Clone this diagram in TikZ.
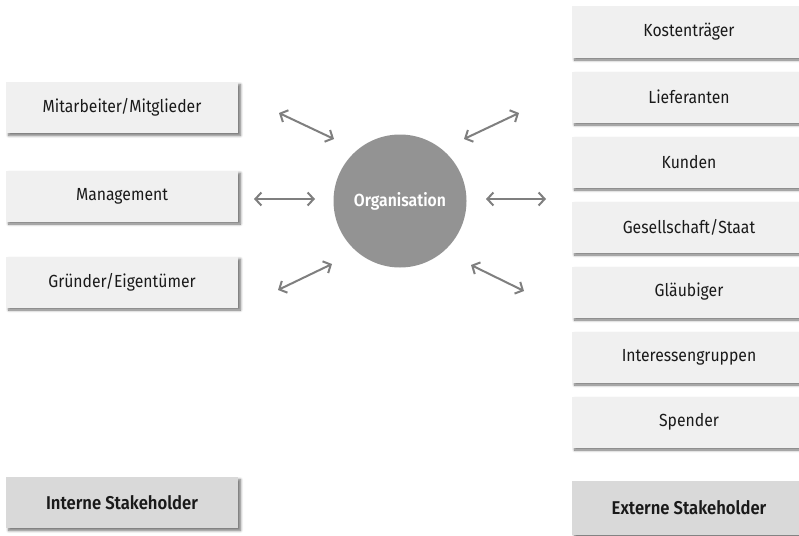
\documentclass[tikz,border=0pt]{standalone}
\usepackage{fontspec}
\setmainfont{Fira Sans}[FakeStretch=0.9]
\newfontfamily\semibold{Fira Sans SemiBold}[FakeStretch=0.9]
\usetikzlibrary{arrows.meta,shadows.blur}

\definecolor{boxfill}{HTML}{F0F0F0}
\definecolor{labelfill}{HTML}{D9D9D9}
\definecolor{orgfill}{HTML}{939393}
\definecolor{arrowgray}{HTML}{7F7F7F}
\definecolor{textdark}{HTML}{1A1A1A}

\tikzset{
  stakebox/.style={
    rectangle, fill=boxfill, minimum width=232pt, minimum height=51pt,
    text=textdark, font=\fontsize{17.5}{20}\selectfont,
    blur shadow={shadow xshift=2.5pt, shadow yshift=-2.5pt,
                 shadow blur steps=6, shadow blur radius=2.5pt,
                 shadow opacity=55}
  },
  rightbox/.style={stakebox, minimum width=234pt},
  groupbox/.style={
    stakebox, fill=labelfill,
    font=\fontsize{18.5}{21}\semibold
  },
  orgcircle/.style={
    circle, fill=orgfill, minimum size=133pt, inner sep=0pt,
    text=white, font=\fontsize{17.5}{20}\semibold
  },
  linkarrow/.style={
    draw=arrowgray, line width=2pt,
    {Straight Barb[length=6pt,width=13pt]}-{Straight Barb[length=6pt,width=13pt]}
  }
}

\begin{document}
\begin{tikzpicture}[x=1pt,y=-1pt]
  \useasboundingbox (0,0) rectangle (799,535);

  % internal stakeholders
  \node[stakebox] (mit) at (122,107.5) {Mitarbeiter/Mitglieder};
  \node[stakebox] (man) at (122,196)   {Management};
  \node[stakebox] (gru) at (122,282)   {Gründer/Eigentümer};

  % external stakeholders
  \node[rightbox] (kos) at (689,32)  {Kostenträger};
  \node[rightbox] (lie) at (689,97)  {Lieferanten};
  \node[rightbox] (kun) at (689,162) {Kunden};
  \node[rightbox] (ges) at (689,227) {Gesellschaft/Staat};
  \node[rightbox] (gla) at (689,292) {Gläubiger};
  \node[rightbox] (int) at (689,357) {Interessengruppen};
  \node[rightbox] (spe) at (689,422) {Spender};

  % group labels
  \node[groupbox] (intern) at (122,502.5) {Interne Stakeholder};
  \node[groupbox, minimum width=234pt, minimum height=54pt] (extern) at (689,508) {Externe Stakeholder};

  % the organisation
  \node[orgcircle] (org) at (400,201) {Organisation};

  % arrow end points
  \coordinate (a1s) at (279,113);
  \coordinate (a1e) at (334,139);
  \coordinate (a2s) at (254,199);
  \coordinate (a2e) at (315,199);
  \coordinate (a3s) at (278,290);
  \coordinate (a3e) at (332,264);
  \coordinate (a4s) at (464,139);
  \coordinate (a4e) at (519,113);
  \coordinate (a5s) at (486,199);
  \coordinate (a5e) at (546,199);
  \coordinate (a6s) at (471,265);
  \coordinate (a6e) at (524,291);

  \draw[linkarrow] (a1s) -- (a1e);
  \draw[linkarrow] (a2s) -- (a2e);
  \draw[linkarrow] (a3s) -- (a3e);
  \draw[linkarrow] (a4s) -- (a4e);
  \draw[linkarrow] (a5s) -- (a5e);
  \draw[linkarrow] (a6s) -- (a6e);
\end{tikzpicture}
\end{document}
